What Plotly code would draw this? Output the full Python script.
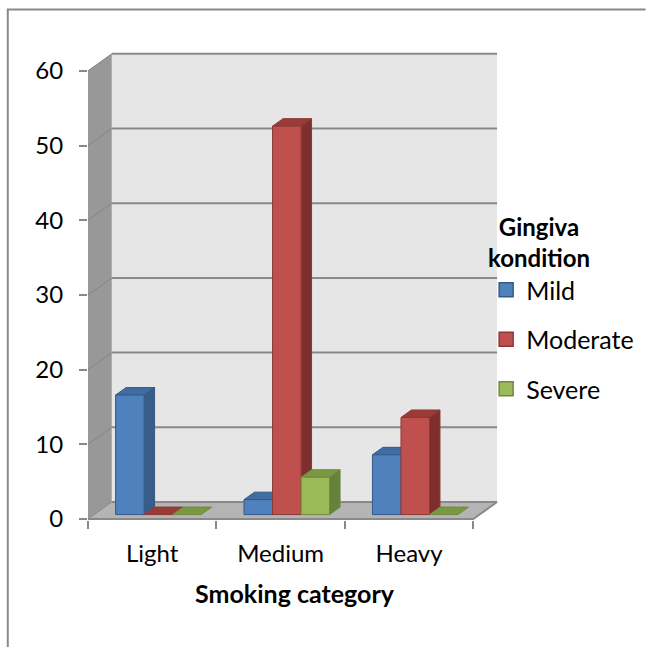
import plotly.graph_objects as go

# ---- data -------------------------------------------------------------
categories = ["Light", "Medium", "Heavy"]
series_names = ["Mild", "Moderate", "Severe"]
mild = [16, 2, 8]
moderate = [0, 52, 13]
severe = [0, 5, 0]
y_ticks = [0, 10, 20, 30, 40, 50, 60]

series_values = [mild, moderate, severe]

# face colours per series: front, top, side, edge
palette = [
    dict(front="#4f81bd", top="#3f6ca3", side="#375d8b", edge="#355a86"),
    dict(front="#c0504d", top="#9b3b38", side="#7e2f2d", edge="#8c3836"),
    dict(front="#9bbb59", top="#7a9840", side="#66813a", edge="#71893f"),
]

# ---- pixel geometry of the plot area -------------------------------------
W, H = 651, 647
PX_LEFT, PX_RIGHT = 88, 505        # plot area horizontal extent
PX_TOP, PX_BOTTOM = 40, 520        # plot area vertical extent
PX_PER_X = 129.67                  # pixels per category
PX_PER_Y = 7.47                    # pixels per value unit
ZERO_PX = 519                      # pixel row of value 0 on the front plane

x_min = -0.5
x_max = x_min + (PX_RIGHT - PX_LEFT) / PX_PER_X
y_min = -(PX_BOTTOM - ZERO_PX) / PX_PER_Y
y_max = (ZERO_PX - PX_TOP) / PX_PER_Y

# oblique depth vector (full depth of the box), in data units
DX = 24 / PX_PER_X
DY = 17 / PX_PER_Y

y_top = y_ticks[-1]
n_cat = len(categories)
x_lo, x_hi = -0.5, n_cat - 0.5

# bar layout: gap width 150 %, bars occupy a slab in the middle of the depth
bar_w = 1 / (len(series_names) + 1.5)
z_front, z_back = 0.26, 0.70


def proj(x, v, z):
    """Oblique projection of (x, value, depth) onto the plot plane."""
    return x + z * DX, v + z * DY


def poly(points):
    xs, ys = zip(*[proj(*p) for p in points])
    return list(xs) + [xs[0]], list(ys) + [ys[0]]


fig = go.Figure()


def add_face(points, fill, line_color=None, line_width=0):
    xs, ys = poly(points)
    fig.add_trace(go.Scatter(
        x=xs, y=ys, mode="lines", fill="toself", fillcolor=fill,
        line=dict(color=line_color or fill, width=line_width),
        hoverinfo="skip", showlegend=False))


def add_line(points, color, width):
    xs, ys = zip(*[proj(*p) for p in points])
    fig.add_trace(go.Scatter(
        x=list(xs), y=list(ys), mode="lines",
        line=dict(color=color, width=width),
        hoverinfo="skip", showlegend=False))


GRID = "#898989"

# back wall, left wall and floor
add_face([(x_lo, 0, 1), (x_hi, 0, 1), (x_hi, y_top, 1), (x_lo, y_top, 1)], "#e6e6e6")
add_face([(x_lo, 0, 0), (x_lo, y_top, 0), (x_lo, y_top, 1), (x_lo, 0, 1)], "#989898")
add_face([(x_lo, 0, 0), (x_hi, 0, 0), (x_hi, 0, 1), (x_lo, 0, 1)], "#b4b4b4")

# gridlines on the back wall and their continuation across the side wall
for v in y_ticks:
    add_line([(x_lo, v, 0), (x_lo, v, 1)], "#858585", 1)
    add_line([(x_lo, v, 1), (x_hi, v, 1)], GRID, 2)

# front edge of the floor and its right-hand diagonal
add_line([(x_lo, 0, 0), (x_hi, 0, 0), (x_hi, 0, 1)], GRID, 2)

# columns, painted left to right so each front face hides its neighbour's side
for c in range(n_cat):
    for s, vals in enumerate(series_values):
        v = vals[c]
        col = palette[s]
        x0 = c - 1.5 * bar_w + s * bar_w
        x1 = x0 + bar_w
        add_face([(x0, v, z_front), (x1, v, z_front), (x1, v, z_back), (x0, v, z_back)],
                 col["top"], col["edge"], 1)
        if v > 0:
            add_face([(x1, 0, z_front), (x1, v, z_front), (x1, v, z_back), (x1, 0, z_back)],
                     col["side"], col["edge"], 1)
            add_face([(x0, 0, z_front), (x1, 0, z_front), (x1, v, z_front), (x0, v, z_front)],
                     col["front"], col["edge"], 1)

# legend entries
for s, name in enumerate(series_names):
    fig.add_trace(go.Scatter(
        x=[None], y=[None], mode="markers", name=name, legendgroup=name,
        marker=dict(symbol="square", size=14, color=palette[s]["front"],
                    line=dict(color=palette[s]["edge"], width=1.5)),
        hoverinfo="skip", showlegend=True))

FONT = "Lato"


def paper_x(px):
    return (px - PX_LEFT) / (PX_RIGHT - PX_LEFT)


def paper_y(py):
    return (PX_BOTTOM - py) / (PX_BOTTOM - PX_TOP)


# outer frame of the chart area: top and left edges, as one open path
fx0, fx1 = paper_x(7), paper_x(W)
fy0, fy1 = paper_y(H), paper_y(9.5)
frame = [
    dict(type="path", xref="paper", yref="paper", layer="above",
         path=f"M {fx0} {fy0} L {fx0} {fy1} L {fx1} {fy1}",
         line=dict(color=GRID, width=2), fillcolor="rgba(0,0,0,0)"),
]

fig.update_layout(
    width=W, height=H,
    margin=dict(l=PX_LEFT, r=W - PX_RIGHT, t=PX_TOP, b=H - PX_BOTTOM, pad=0),
    paper_bgcolor="white", plot_bgcolor="white",
    font=dict(family=FONT, size=24, color="#000000"),
    xaxis=dict(
        range=[x_min, x_max], tickmode="array",
        tickvals=list(range(n_cat)), ticktext=categories,
        ticks="", showgrid=False, zeroline=False, showline=False,
        ticklabelstandoff=17,
        minor=dict(tickmode="array", tickvals=[i - 0.5 for i in range(n_cat + 1)],
                   ticks="outside", ticklen=8, tickwidth=2, tickcolor=GRID, showgrid=False),
        title=dict(text="<b>Smoking category</b>", standoff=19,
                   font=dict(family=FONT, size=25)),
        fixedrange=True,
    ),
    yaxis=dict(
        range=[y_min, y_max], tickmode="array", tickvals=y_ticks,
        ticks="outside", ticklen=8, tickwidth=2, tickcolor=GRID,
        showgrid=False, zeroline=False, showline=False,
        ticklabelstandoff=11, fixedrange=True,
    ),
    legend=dict(
        x=paper_x(490), y=paper_y(267), xanchor="left", yanchor="top",
        font=dict(family=FONT, size=25), tracegroupgap=14,
        bgcolor="rgba(0,0,0,0)", itemclick=False, itemdoubleclick=False,
    ),
    annotations=[dict(
        text="<b>Gingiva<br>kondition</b>", xref="paper", yref="paper",
        x=paper_x(543), y=paper_y(210), xanchor="center", yanchor="top",
        align="center", showarrow=False, font=dict(family=FONT, size=24),
    )],
    shapes=frame,
    showlegend=True,
)

fig.write_html("out.html", config={"displayModeBar": False})
